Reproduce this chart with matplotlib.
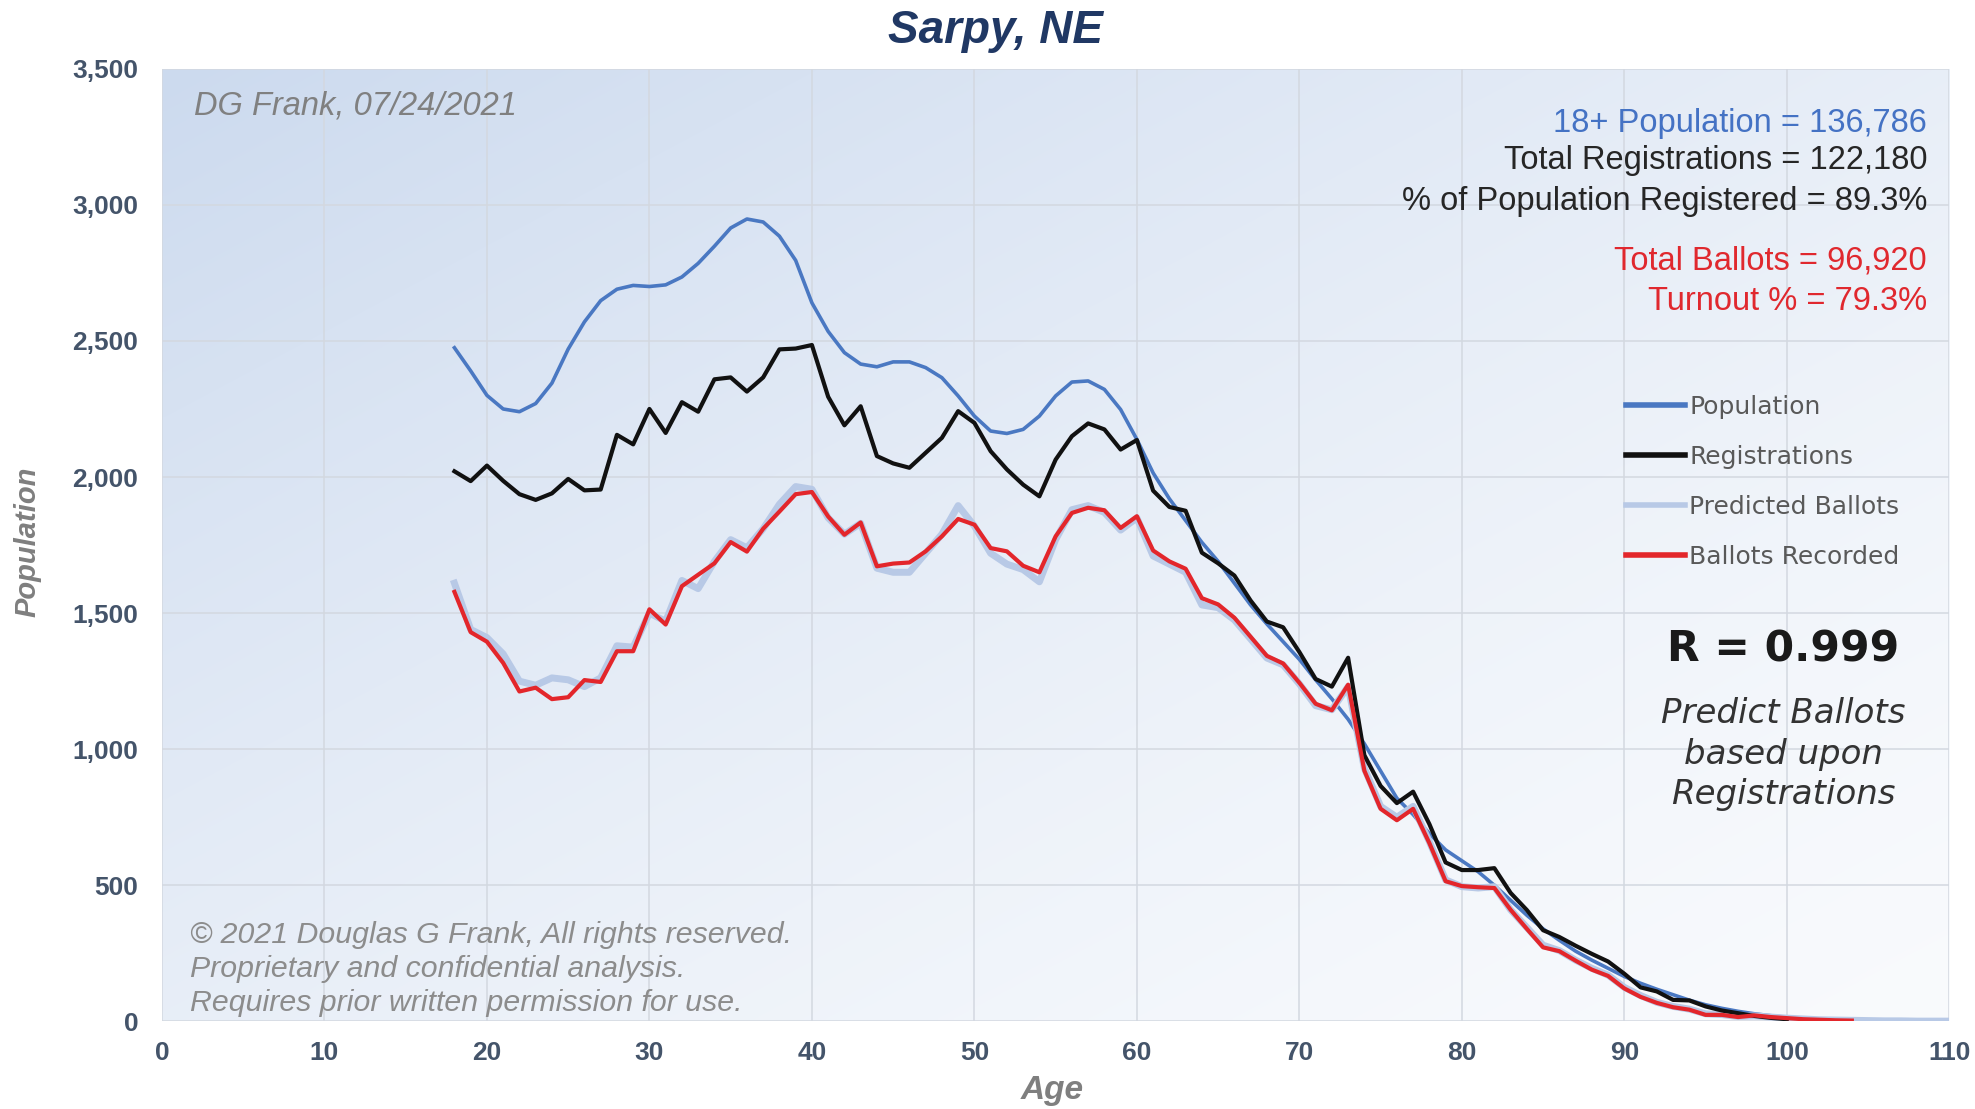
import matplotlib
matplotlib.use("Agg")
import matplotlib.pyplot as plt
import numpy as np
from matplotlib.ticker import FuncFormatter

# ---- data ----
ages_pop = list(range(18, 111))
population = [2475, 2390, 2300, 2250, 2240, 2270, 2345, 2470, 2570, 2648,
              2690, 2704, 2700, 2706, 2735, 2785, 2848, 2915, 2948, 2937,
              2885, 2796, 2640, 2535, 2457, 2415, 2405, 2423, 2423, 2402,
              2365, 2298, 2224, 2169, 2160, 2175, 2224, 2298, 2349, 2353,
              2322, 2248, 2138, 2015, 1920, 1840, 1760, 1690, 1610, 1530,
              1460, 1395, 1330, 1255, 1185, 1110, 1020, 920, 820, 760,
              690, 630, 590, 550, 500, 445, 390, 340, 298, 258,
              225, 195, 165, 140, 118, 98, 78, 61, 48, 37,
              28, 21, 15, 11, 8, 5, 4, 3, 2, 2, 1, 1, 1]

ages_reg = list(range(18, 101))
registrations = [2021, 1985, 2042, 1986, 1937, 1916, 1940, 1993, 1951, 1954,
                 2155, 2120, 2250, 2162, 2275, 2240, 2359, 2366, 2314, 2366,
                 2469, 2472, 2485, 2295, 2190, 2260, 2077, 2050, 2034, 2089,
                 2144, 2242, 2199, 2095, 2028, 1972, 1929, 2064, 2150, 2197,
                 2175, 2101, 2136, 1950, 1890, 1876, 1722, 1683, 1638, 1546,
                 1469, 1448, 1357, 1258, 1230, 1336, 978, 865, 802, 844,
                 725, 584, 556, 556, 563, 472, 409, 335, 310, 278,
                 248, 220, 175, 125, 110, 79, 77, 55, 40, 30, 20, 13, 8]

ages_pred = list(range(18, 111))
predicted = [1610, 1440, 1410, 1350, 1250, 1235, 1262, 1255, 1230, 1262,
             1380, 1375, 1500, 1470, 1620, 1590, 1690, 1770, 1740, 1810,
             1900, 1965, 1955, 1850, 1790, 1830, 1665, 1650, 1650, 1720,
             1790, 1895, 1820, 1720, 1680, 1660, 1615, 1770, 1880, 1895,
             1870, 1805, 1850, 1710, 1680, 1650, 1530, 1520, 1475, 1405,
             1335, 1310, 1240, 1160, 1145, 1230, 930, 790, 750, 790,
             660, 520, 495, 490, 495, 410, 345, 280, 260, 225,
             195, 170, 125, 95, 70, 55, 45, 28, 25, 18,
             20, 16, 12, 9, 6, 5, 4, 3, 2, 2, 1, 1, 1]

ages_bal = list(range(18, 105))
ballots = [1578, 1430, 1395, 1317, 1212, 1226, 1184, 1191, 1254, 1247,
           1360, 1360, 1514, 1458, 1599, 1641, 1683, 1761, 1726, 1810,
           1873, 1937, 1945, 1855, 1788, 1833, 1672, 1682, 1686, 1727,
           1782, 1846, 1825, 1739, 1727, 1674, 1650, 1782, 1868, 1887,
           1878, 1813, 1856, 1730, 1690, 1663, 1555, 1532, 1483, 1413,
           1343, 1315, 1244, 1167, 1143, 1237, 921, 781, 739, 781,
           655, 515, 497, 493, 490, 410, 340, 272, 258, 223,
           190, 167, 121, 90, 68, 52, 43, 24, 24, 16,
           22, 16, 12, 8, 6, 4, 3]

stats = [("18+ Population = 136,786", "#4472C4"),
         ("Total Registrations = 122,180", "#262626"),
         ("% of Population Registered = 89.3%", "#262626"),
         ("Total Ballots = 96,920", "#E0282E"),
         ("Turnout % = 79.3%", "#E0282E")]
stats_y = [0.889, 0.855, 0.818, 0.765, 0.728]

copyright_lines = ["\u00a9 2021 Douglas G Frank, All rights reserved.",
                   "Proprietary and confidential analysis.",
                   "Requires prior written permission for use."]

CAL = ["Liberation Sans", "DejaVu Sans"]

fig = plt.figure(figsize=(19.75, 11.09), dpi=100)
ax = fig.add_axes([0.082, 0.079, 0.905, 0.859])

# plot-area gradient: light blue top-left -> almost white bottom-right
xn = np.linspace(0, 1, 300)
yn = np.linspace(1, 0, 200)
X, Y = np.meshgrid(xn, yn)
d = np.clip((1 - X) * 0.5 + Y * 0.5, 0, 1) ** 1.4
c0 = np.array([0.80, 0.855, 0.935])
c1 = np.array([0.975, 0.982, 0.992])
img = c1 + (c0 - c1) * d[..., None]
ax.imshow(img, extent=[0, 110, 0, 3500], aspect="auto", zorder=0,
          interpolation="bilinear")

ax.set_xlim(0, 110)
ax.set_ylim(0, 3500)
ax.set_xticks(range(0, 111, 10))
ax.set_yticks(range(0, 3501, 500))
ax.yaxis.set_major_formatter(FuncFormatter(lambda v, p: f"{int(v):,}"))
ax.grid(color="#D3D8E0", lw=1.1, zorder=1)
ax.set_axisbelow(True)
for s in ax.spines.values():
    s.set_visible(False)
ax.tick_params(length=0, labelcolor="#44546A", labelsize=19)
ax.tick_params(axis="y", pad=17)
ax.tick_params(axis="x", pad=14)
for lab in ax.get_xticklabels() + ax.get_yticklabels():
    lab.set_fontweight("bold")
    lab.set_family(CAL)

ax.plot(ages_pop, population, color="#4A78C2", lw=2.6, zorder=3,
        label="Population")
ax.plot(ages_reg, registrations, color="#111111", lw=3.0, zorder=4,
        label="Registrations")
ax.plot(ages_pred, predicted, color="#B8C9E6", lw=5.0, zorder=3,
        label="Predicted Ballots")
ax.plot(ages_bal, ballots, color="#E3262B", lw=3.0, zorder=5,
        label="Ballots Recorded")

leg = ax.legend(loc="upper left", bbox_to_anchor=(0.8235, 0.644),
                bbox_transform=fig.transFigure, frameon=False,
                fontsize=18, handlelength=2.36, handletextpad=0.15,
                labelspacing=1.04, borderpad=0, borderaxespad=0,
                labelcolor="#595959")
for h in leg.get_lines():
    h.set_linewidth(4)

fig.text(0.504, 0.972, "Sarpy, NE", ha="center", va="center", fontsize=33,
         fontweight="bold", fontstyle="italic", color="#203864", family=CAL)
fig.text(0.098, 0.904, "DG Frank, 07/24/2021", ha="left", va="center",
         fontsize=23.5, fontstyle="italic", color="#808080", family=CAL)

for (txt, col), yy in zip(stats, stats_y):
    fig.text(0.9757, yy, txt, ha="right", va="center", fontsize=23.5,
             color=col, family=CAL)

fig.text(0.903, 0.414, "R = 0.999", ha="center", va="center", fontsize=30.5,
         fontweight="bold", color="#1A1A1A")
fig.text(0.903, 0.320, "Predict Ballots\nbased upon\nRegistrations",
         ha="center", va="center", fontsize=24.5, fontstyle="italic",
         color="#333333", linespacing=1.3)

for i, line in enumerate(copyright_lines):
    fig.text(0.096, 0.157 - i * 0.0307, line, ha="left", va="center",
             fontsize=21.8, fontstyle="italic", color="#8C8C8C", family=CAL)

fig.text(0.014, 0.511, "Population", rotation=90, ha="center", va="center",
         fontsize=21, fontweight="bold", fontstyle="italic", color="#7F7F7F",
         family=CAL)
fig.text(0.533, 0.017, "Age", ha="center", va="center", fontsize=24,
         fontweight="bold", fontstyle="italic", color="#7F7F7F", family=CAL)

fig.savefig("out.png", dpi=100, facecolor="white")
